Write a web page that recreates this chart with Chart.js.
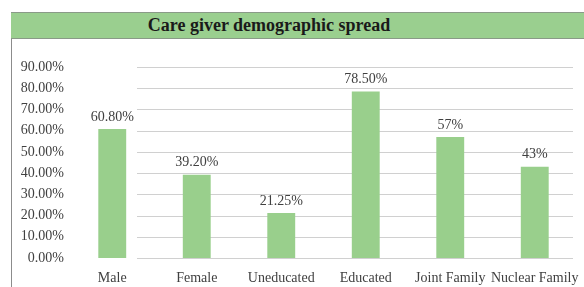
<!DOCTYPE html>
<html>
<head>
<meta charset="utf-8">
<script src="https://cdn.jsdelivr.net/npm/chart.js@4/dist/chart.umd.min.js"></script>
<style>
  html, body { margin: 0; padding: 0; background: #ffffff; }
  #wrap { position: relative; width: 584px; height: 287px; overflow: hidden; }
  #titlebar {
    position: absolute; left: 11px; top: 12px; width: 600px; height: 25px;
    background: #9acf8f; border-top: 1px solid #8a9a88; border-bottom: 1px solid #8a9a88;
  }
  #title {
    position: absolute; left: 11px; top: 12px; width: 516px; height: 27px; line-height: 27px;
    text-align: center; font-family: "Liberation Serif", "Times New Roman", serif;
    font-weight: bold; font-size: 18px; color: #1a1a1a;
  }
  #leftline { position: absolute; left: 11px; top: 12px; width: 1px; height: 280px; background: #8c8c8c; }
  #c { position: absolute; left: 0; top: 0; }
</style>
</head>
<body>
<div id="wrap">
  <canvas id="c" width="584" height="287"></canvas>
  <div id="leftline"></div>
  <div id="titlebar"></div>
  <div id="title">Care giver demographic spread</div>
</div>
<script>
const categories = ["Male", "Female", "Uneducated", "Educated", "Joint Family", "Nuclear Family"];
const values = [60.8, 39.2, 21.25, 78.5, 57, 43];
const valueLabels = ["60.80%", "39.20%", "21.25%", "78.50%", "57%", "43%"];
const yTicksMin = 0;
const yTicksMax = 90;
const yTicksStep = 10;

const serif = '"Liberation Serif", "Times New Roman", serif';

const gridPlugin = {
  id: 'partialGrid',
  beforeDatasetsDraw(chart) {
    const y = chart.scales.y;
    const ctx = chart.ctx;
    ctx.save();
    ctx.strokeStyle = '#d0d0d0';
    ctx.lineWidth = 1;
    y.ticks.forEach(t => {
      const py = Math.round(y.getPixelForValue(t.value)) + 0.5;
      ctx.beginPath();
      ctx.moveTo(137, py);
      ctx.lineTo(573, py);
      ctx.stroke();
    });
    ctx.restore();
  }
};

const labelPlugin = {
  id: 'valueLabels',
  afterDatasetsDraw(chart) {
    const ctx = chart.ctx;
    const meta = chart.getDatasetMeta(0);
    ctx.save();
    ctx.font = '14px ' + serif;
    ctx.fillStyle = '#404040';
    ctx.textAlign = 'center';
    ctx.textBaseline = 'middle';
    meta.data.forEach((bar, i) => {
      ctx.fillText(valueLabels[i], bar.x, bar.y - 12);
    });
    ctx.restore();
  }
};

new Chart(document.getElementById('c'), {
  type: 'bar',
  data: {
    labels: categories,
    datasets: [{
      data: values,
      backgroundColor: '#99cf8c',
      borderWidth: 0,
      barPercentage: 0.33,
      categoryPercentage: 1.0
    }]
  },
  options: {
    responsive: false,
    animation: false,
    devicePixelRatio: 1,
    layout: { padding: { top: 67, right: 7, bottom: 0, left: 0 } },
    plugins: { legend: { display: false }, title: { display: false }, tooltip: { enabled: false } },
    scales: {
      x: {
        grid: { display: false, drawTicks: false },
        border: { display: false },
        ticks: { color: '#404040', font: { family: serif, size: 14 }, padding: 12, maxRotation: 0, autoSkip: false },
        afterFit(scale) { scale.height = 29; scale.paddingLeft = 0; scale.paddingRight = 0; }
      },
      y: {
        min: yTicksMin,
        max: yTicksMax,
        grid: { display: false, drawTicks: false },
        border: { display: false },
        ticks: {
          stepSize: yTicksStep,
          color: '#404040',
          font: { family: serif, size: 14 },
          padding: 6,
          callback: v => v.toFixed(2) + '%'
        },
        afterFit(scale) { scale.width = 70; scale.paddingTop = 0; scale.paddingBottom = 0; }
      }
    }
  },
  plugins: [gridPlugin, labelPlugin]
});
</script>
</body>
</html>
